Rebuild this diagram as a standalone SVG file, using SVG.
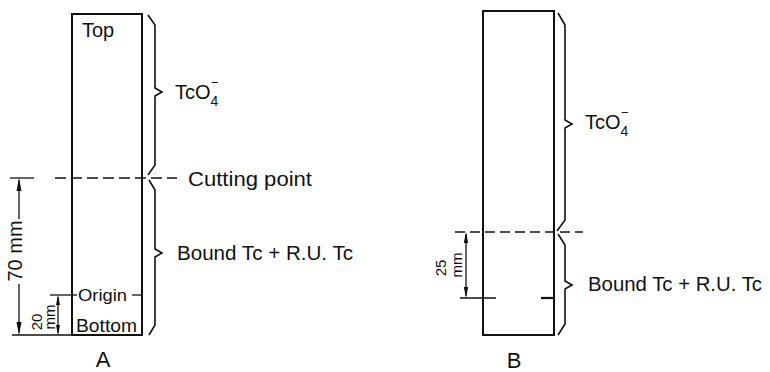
<svg xmlns="http://www.w3.org/2000/svg" width="770" height="372" viewBox="0 0 770 372">
<defs>
<style>
text{font-family:"Liberation Sans",Arial,sans-serif;fill:#111;}
.t{font-size:20px;}
.s{font-size:15px;}
.box{fill:none;stroke:#111;stroke-width:2;}
.br{fill:none;stroke:#111;stroke-width:1.6;stroke-linejoin:miter;}
.ln{fill:none;stroke:#111;stroke-width:1.3;}
.dash{fill:none;stroke:#111;stroke-width:1.5;stroke-dasharray:11 5;}
.ah{fill:#111;stroke:none;}
</style>
</defs>
<rect width="770" height="372" fill="#fff"/>

<g id="stripA">
<rect class="box" x="72" y="14" width="70" height="321"/>
<text class="t" x="82" y="37">Top</text>
<line class="ln" x1="50" y1="295" x2="77" y2="295"/>
<text x="78" y="301" font-size="17" textLength="49" lengthAdjust="spacingAndGlyphs">Origin</text>
<line class="ln" x1="132" y1="295" x2="141" y2="295"/>
<text x="76" y="332" font-size="19" textLength="61" lengthAdjust="spacingAndGlyphs">Bottom</text>
<text x="103" y="367" font-size="22" text-anchor="middle">A</text>
</g>

<g id="stripB">
<rect class="box" x="483" y="11" width="71" height="324"/>
<text x="514" y="368" font-size="22" text-anchor="middle">B</text>
</g>

<g id="labelsA">
<text class="t" x="175" y="99">TcO<tspan font-size="14" dy="7">4</tspan></text>
<text x="211" y="87" font-size="13">−</text>
<text class="t" x="188" y="186" textLength="124" lengthAdjust="spacingAndGlyphs">Cutting point</text>
<text class="t" x="177" y="260" textLength="176" lengthAdjust="spacingAndGlyphs">Bound Tc + R.U. Tc</text>
</g>

<g id="labelsB">
<text class="t" x="585" y="129">TcO<tspan font-size="14" dy="7">4</tspan></text>
<text x="621" y="117" font-size="13">−</text>
<text class="t" x="588" y="291" textLength="174" lengthAdjust="spacingAndGlyphs">Bound Tc + R.U. Tc</text>
</g>

<g id="connectors">
<path class="br" d="M148,15 L155,25 L155,88 L162,92 L155,96 L155,165 L148,175"/>
<path class="br" d="M149,180 L155,190 L155,249 L162,253 L155,257 L155,325 L149,335"/>
<path class="br" d="M558,13 L565,25 L565,120 L572,124 L565,128 L565,220 L557,231"/>
<path class="br" d="M558,234 L565,245 L565,281 L572,285 L565,289 L565,324 L558,335"/>
<line class="ln" x1="10" y1="178" x2="34" y2="178"/>
<line class="dash" x1="55" y1="178" x2="177" y2="178"/>
<line class="dash" x1="455" y1="232" x2="583" y2="232" style="stroke-dasharray:10 5"/>
<line class="ln" x1="19" y1="180" x2="19" y2="219"/>
<line class="ln" x1="19" y1="284" x2="19" y2="333"/>
<path class="ah" d="M19,178 L21.5,191 L16.5,191 Z"/>
<path class="ah" d="M19,335 L21.5,322 L16.5,322 Z"/>
<line class="ln" x1="12" y1="335" x2="72" y2="335"/>
<text class="t" transform="translate(22,251) rotate(-90)" text-anchor="middle">70 mm</text>
<line class="ln" x1="58" y1="297" x2="58" y2="333"/>
<path class="ah" d="M58,295 L60,305 L56,305 Z"/>
<path class="ah" d="M58,335 L60,325 L56,325 Z"/>
<text class="s" transform="translate(42,322) rotate(-90)" text-anchor="middle">20</text>
<text class="s" transform="translate(55,317) rotate(-90)" text-anchor="middle">mm</text>
<line class="ln" x1="466" y1="234" x2="466" y2="296"/>
<path class="ah" d="M466,232 L468.2,243 L463.8,243 Z"/>
<path class="ah" d="M466,298 L468.2,287 L463.8,287 Z"/>
<line class="ln" x1="460" y1="298" x2="496" y2="298" stroke="#777"/>
<line x1="541" y1="298" x2="554" y2="298" stroke="#111" stroke-width="2.2"/>
<text class="s" transform="translate(446,268) rotate(-90)" text-anchor="middle">25</text>
<text class="s" transform="translate(462,265) rotate(-90)" text-anchor="middle">mm</text>
</g>
</svg>
